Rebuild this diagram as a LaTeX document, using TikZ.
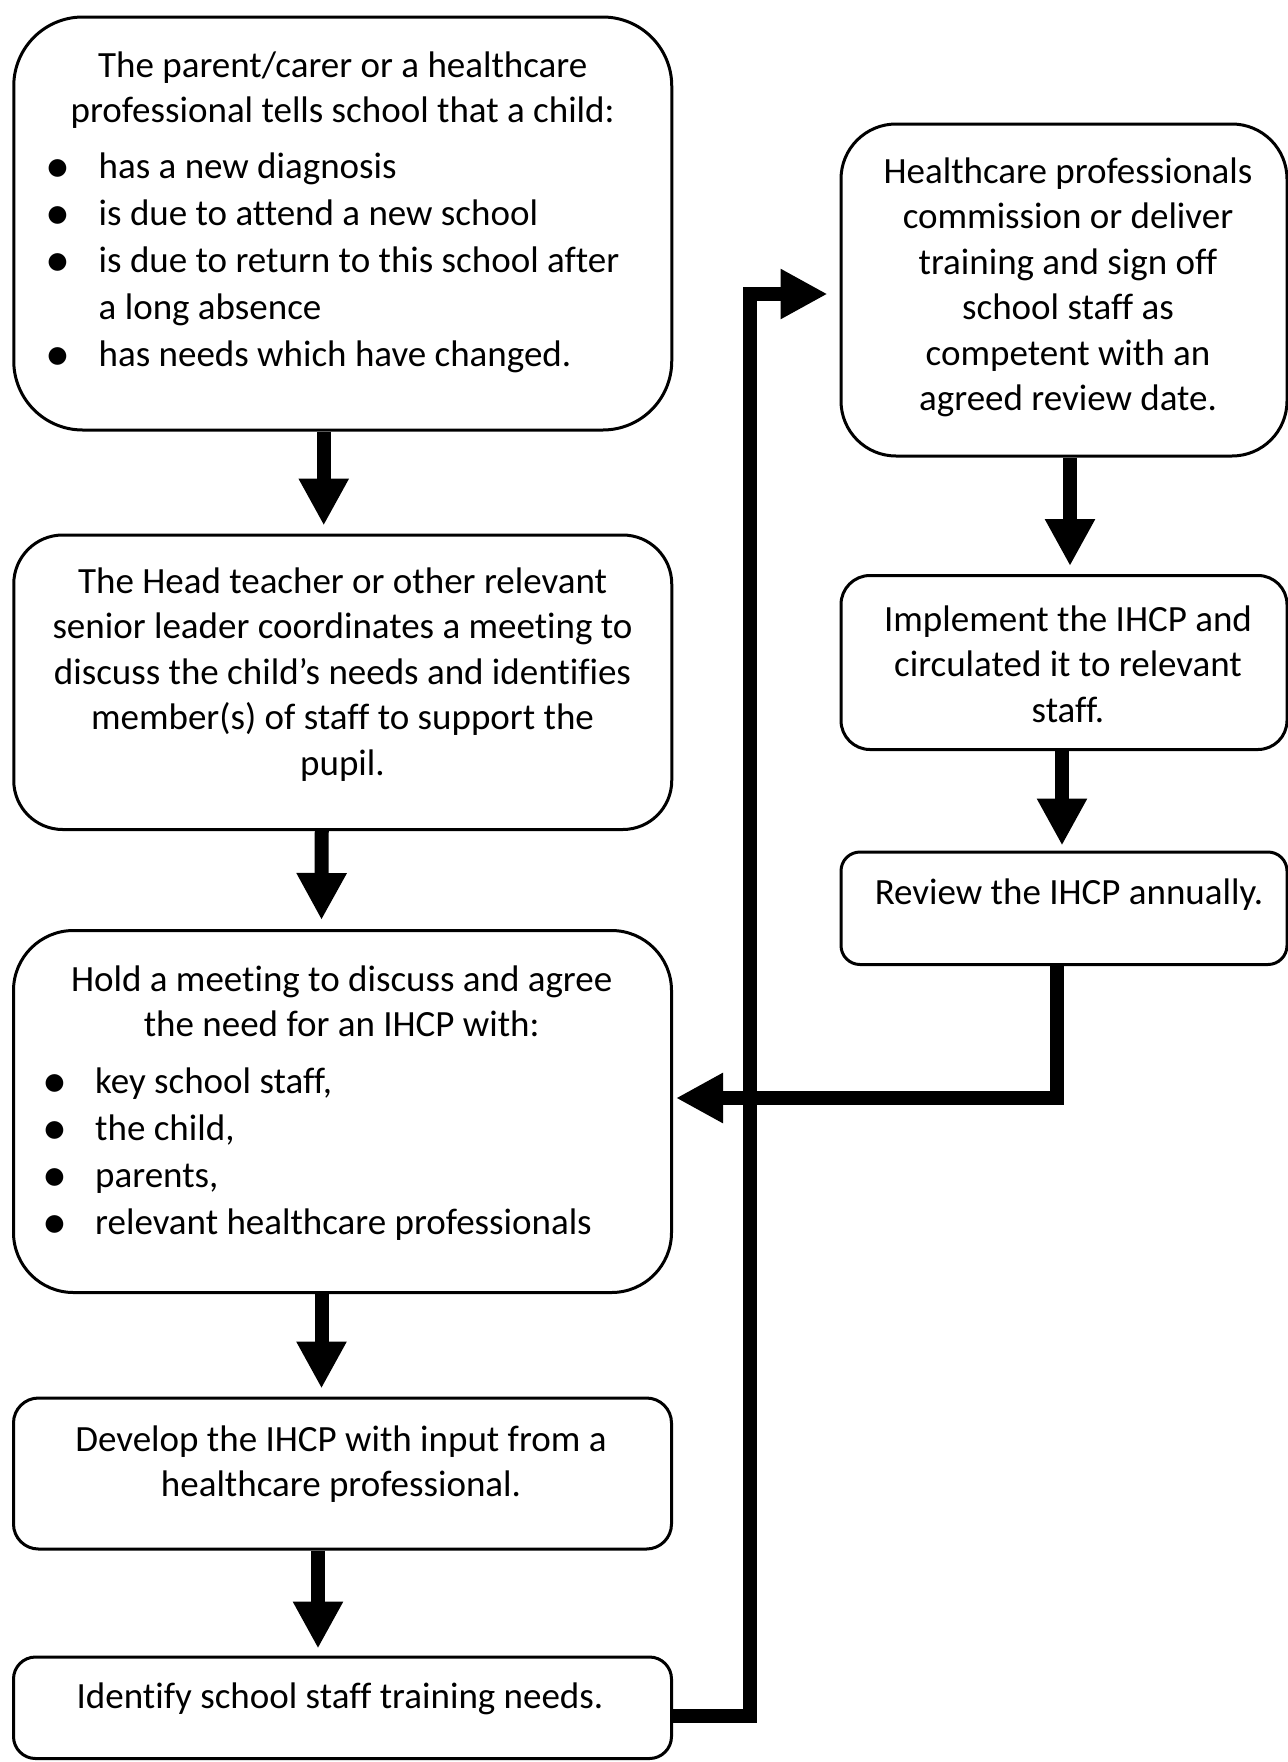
\documentclass[tikz,border=0pt]{standalone}
\usepackage{fontspec}
\setmainfont{Carlito}[Ligatures=NoCommon]
\usetikzlibrary{arrows.meta}
\newcommand\fs{\rule{0pt}{30pt}}
\newcommand\bl{\llap{\makebox[81pt]{\smash{\raisebox{-4.5pt}{\fontsize{50}{47}\selectfont •}}}}}
\begin{document}
\begin{tikzpicture}[x=1pt,y=-1pt,
  box/.style={draw, line width=3pt, rounded corners=#1, inner sep=0pt},
  txt/.style={inner sep=0pt, align=center, font=\fontsize{37}{45.5}\selectfont, anchor=north},
  lst/.style={inner sep=0pt, align=left, font=\fontsize{37}{47}\selectfont, anchor=north west},
  arr/.style={line width=14pt, -{Triangle[width=47pt,length=47pt]}}]
\useasboundingbox (0,0) rectangle (1288,1762);
% boxes
\node[box=69pt, minimum width=658pt, minimum height=413pt] (b1) at (342.75,223.5) {};
\node[box=49pt, minimum width=658pt, minimum height=294.5pt] (b2) at (342.75,682.25) {};
\node[box=60pt, minimum width=658pt, minimum height=362pt] (b3) at (342.5,1111.5) {};
\node[box=25pt, minimum width=658pt, minimum height=151pt] (b4) at (342.5,1473.5) {};
\node[box=22pt, minimum width=658pt, minimum height=101.5pt] (b5) at (342.5,1707.75) {};
\node[box=55pt, minimum width=446pt, minimum height=332pt] (bA) at (1064,290) {};
\node[box=29pt, minimum width=446pt, minimum height=174pt] (bB) at (1064,662.5) {};
\node[box=19pt, minimum width=446pt, minimum height=112.5pt] (bC) at (1064,908.25) {};
% texts
\node[txt] (t1h) at (342.7,47) {\fs The parent/carer or a healthcare\\professional tells school that a child:};
\node[lst] (t1l) at (98.5,148) {\fs\bl has a new diagnosis\\\bl is due to attend a new school\\\bl is due to return to this school after\\a long absence\\\bl has needs which have changed.};
\node[txt] (t2) at (342.5,563) {\fs The Head teacher or other relevant\\senior leader coordinates a meeting to\\discuss the child’s needs and identifies\\member(s) of staff to support the\\pupil.};
\node[txt] (t3h) at (341.7,961) {\fs Hold a meeting to discuss and agree\\the need for an IHCP with:};
\node[lst] (t3l) at (95,1063) {\fs\bl key school staff,\\\bl the child,\\\bl parents,\\\bl relevant healthcare professionals};
\node[txt] (t4) at (341,1421) {\fs Develop the IHCP with input from a\\healthcare professional.};
\node[txt] (t5) at (340,1678) {\fs Identify school staff training needs.};
\node[txt] (tA) at (1068,153) {\fs Healthcare professionals\\commission or deliver\\training and sign off\\school staff as\\competent with an\\agreed review date.};
\node[txt] (tB) at (1068,601) {\fs Implement the IHCP and\\circulated it to relevant\\staff.};
\node[txt] (tC) at (1069,874) {\fs Review the IHCP annually.};
% arrows
\draw[arr] ([xshift=-19pt]b1.south) -- ([xshift=-19pt,yshift=8pt]b2.north);
\draw[arr] ([xshift=-21pt]b2.south) -- ([xshift=-21pt,yshift=9pt]b3.north);
\draw[arr] ([xshift=-21pt]b3.south) -- ([xshift=-21pt,yshift=8pt]b4.north);
\draw[arr] ([xshift=-24.5pt]b4.south) -- ([xshift=-24.5pt,yshift=7pt]b5.north);
\draw[arr] ([xshift=6pt]bA.south) -- ([xshift=6pt,yshift=8pt]bB.north);
\draw[arr] ([xshift=-2pt]bB.south) -- ([xshift=-2pt,yshift=5pt]bC.north);
% loop to training box
\coordinate (lp) at (750,294);
\coordinate (lpend) at ([xshift=-12pt]bA.west);
\draw[arr] ([yshift=-8pt]b5.east) -| (lp) -- (lpend |- lp);
% return from review box
\coordinate (rc) at (1056.5,1098);
\coordinate (rcend) at ([xshift=3pt]b3.east);
\draw[arr] ([xshift=-7.5pt]bC.south) -- (rc) -- (rcend |- rc);
\end{tikzpicture}
\end{document}
